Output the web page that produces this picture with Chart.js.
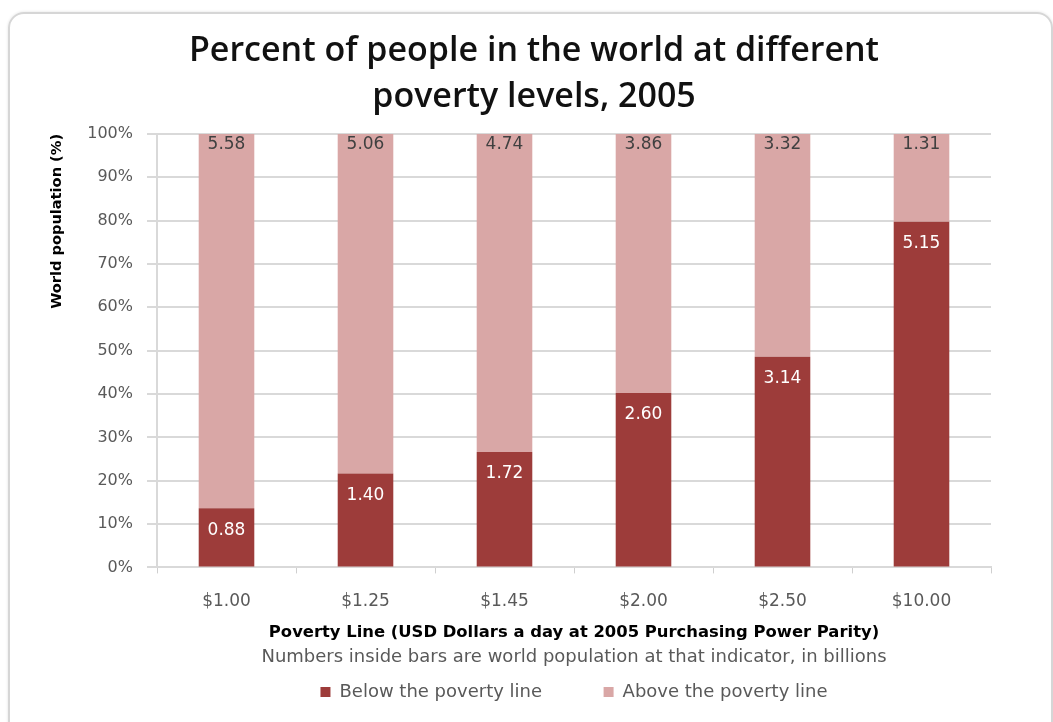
<!DOCTYPE html>
<html>
<head>
<meta charset="utf-8">
<title>Poverty levels 2005</title>
<script src="https://cdn.jsdelivr.net/npm/chart.js@4.4.1/dist/chart.umd.min.js"></script>
<style>
  html, body { margin: 0; padding: 0; background: #fff; overflow: hidden; }
  #card {
    position: absolute; left: 8px; top: 12px; width: 1041px; height: 740px;
    border: 2px solid #d6d6d6; border-radius: 16px;
    box-shadow: 0 0 3px rgba(0,0,0,0.12);
  }
  #wrap { position: absolute; left: 0; top: 0; width: 1053px; height: 722px; }
</style>
</head>
<body>
<div id="card"></div>
<div id="wrap"><canvas id="povertyChart" width="1053" height="722"></canvas></div>
<script>
// poverty line categories (x axis)
var povertyLines = ['$1.00', '$1.25', '$1.45', '$2.00', '$2.50', '$10.00'];
// world population in billions, below / above each line
var belowBillions = [0.88, 1.40, 1.72, 2.60, 3.14, 5.15];
var aboveBillions = [5.58, 5.06, 4.74, 3.86, 3.32, 1.31];

var seriesNames = ['Below the poverty line', 'Above the poverty line'];
var darkRed = '#9d3c3a';
var lightRed = '#d9a7a6';

// share of the total for each bar, so the stack fills 100%
function toPercent(part, other) {
    return part.map(function (v, i) { return v / (v + other[i]) * 100; });
}
var belowPct = toPercent(belowBillions, aboveBillions);
var abovePct = toPercent(aboveBillions, belowBillions);

// numbers written inside the bars (billions)
var barLabels = {
    id: 'barLabels',
    afterDatasetsDraw: function (chart) {
        var ctx = chart.ctx;
        ctx.save();
        ctx.font = '17px "DejaVu Sans"';
        ctx.textAlign = 'center';
        ctx.textBaseline = 'middle';
        var below = chart.getDatasetMeta(0).data;
        var above = chart.getDatasetMeta(1).data;
        below.forEach(function (bar, i) {
            ctx.fillStyle = '#ffffff';
            ctx.fillText(belowBillions[i].toFixed(2), bar.x, bar.y + 22);
        });
        above.forEach(function (bar, i) {
            ctx.fillStyle = '#404040';
            ctx.fillText(aboveBillions[i].toFixed(2), bar.x, bar.y + 11);
        });
        ctx.restore();
    }
};

// default legend items, with a wider gap after the first entry
function legendItems(chart) {
    var items = Chart.defaults.plugins.legend.labels.generateLabels(chart);
    items[0].text = items[0].text + '         ';
    return items;
}

var ctx = document.getElementById('povertyChart').getContext('2d');
var chart = new Chart(ctx, {
    type: 'bar',
    data: {
        labels: povertyLines,
        datasets: [
            {
                label: seriesNames[0],
                data: belowPct,
                backgroundColor: darkRed,
                categoryPercentage: 1,
                barPercentage: 0.4
            },
            {
                label: seriesNames[1],
                data: abovePct,
                backgroundColor: lightRed,
                categoryPercentage: 1,
                barPercentage: 0.4
            }
        ]
    },
    options: {
        responsive: false,
        animation: false,
        layout: { padding: { top: 14, left: 44, right: 29, bottom: 11 } },
        plugins: {
            tooltip: { enabled: false },
            title: {
                display: true,
                text: ['Percent of people in the world at different', 'poverty levels, 2005'],
                color: '#111',
                font: { family: 'Open Sans', size: 34, weight: 600, lineHeight: 1.33 },
                padding: { top: 15, bottom: 14.5 }
            },
            subtitle: {
                display: true,
                position: 'bottom',
                fullSize: false,
                weight: 500,
                text: 'Numbers inside bars are world population at that indicator, in billions',
                color: '#595959',
                font: { family: 'DejaVu Sans', size: 18 },
                padding: { top: 0, bottom: 5 }
            },
            legend: {
                position: 'bottom',
                fullSize: false,
                labels: {
                    boxWidth: 10,
                    boxHeight: 10,
                    padding: 10,
                    color: '#595959',
                    font: { family: 'DejaVu Sans', size: 18 },
                    generateLabels: legendItems
                }
            }
        },
        scales: {
            x: {
                stacked: true,
                grid: { drawOnChartArea: false, tickLength: 6, color: '#cfcfcf' },
                border: { color: '#d9d9d9', width: 2 },
                ticks: {
                    color: '#595959',
                    font: { family: 'DejaVu Sans', size: 17 },
                    padding: 18
                },
                title: {
                    display: true,
                    text: 'Poverty Line (USD Dollars a day at 2005 Purchasing Power Parity)',
                    color: '#000',
                    font: { family: 'DejaVu Sans', size: 16.4, weight: 'bold' },
                    padding: { top: 11, bottom: 4.3 }
                },
                afterFit: function (scale) { scale.height = 79; }
            },
            y: {
                stacked: true,
                min: 0,
                max: 100,
                grid: { color: '#d9d9d9', lineWidth: 2, tickLength: 10, tickColor: '#d9d9d9' },
                border: { color: '#d9d9d9', width: 2 },
                ticks: {
                    stepSize: 10,
                    color: '#595959',
                    font: { family: 'DejaVu Sans', size: 16 },
                    padding: 14,
                    callback: function (v) { return v + '%'; }
                },
                title: {
                    display: true,
                    text: 'World population (%)',
                    align: 'end',
                    color: '#000',
                    font: { family: 'DejaVu Sans', size: 14.6, weight: 'bold' },
                    padding: { top: 4, bottom: 4 }
                },
                afterFit: function (scale) { scale.width = 113; }
            },
            // empty right-hand spacer so the plot ends where the original does
            spacer: {
                type: 'linear',
                position: 'right',
                grid: { display: false },
                border: { display: false },
                ticks: { display: false },
                afterFit: function (scale) { scale.width = 33; }
            }
        }
    },
    plugins: [barLabels]
});
</script>
</body>
</html>
